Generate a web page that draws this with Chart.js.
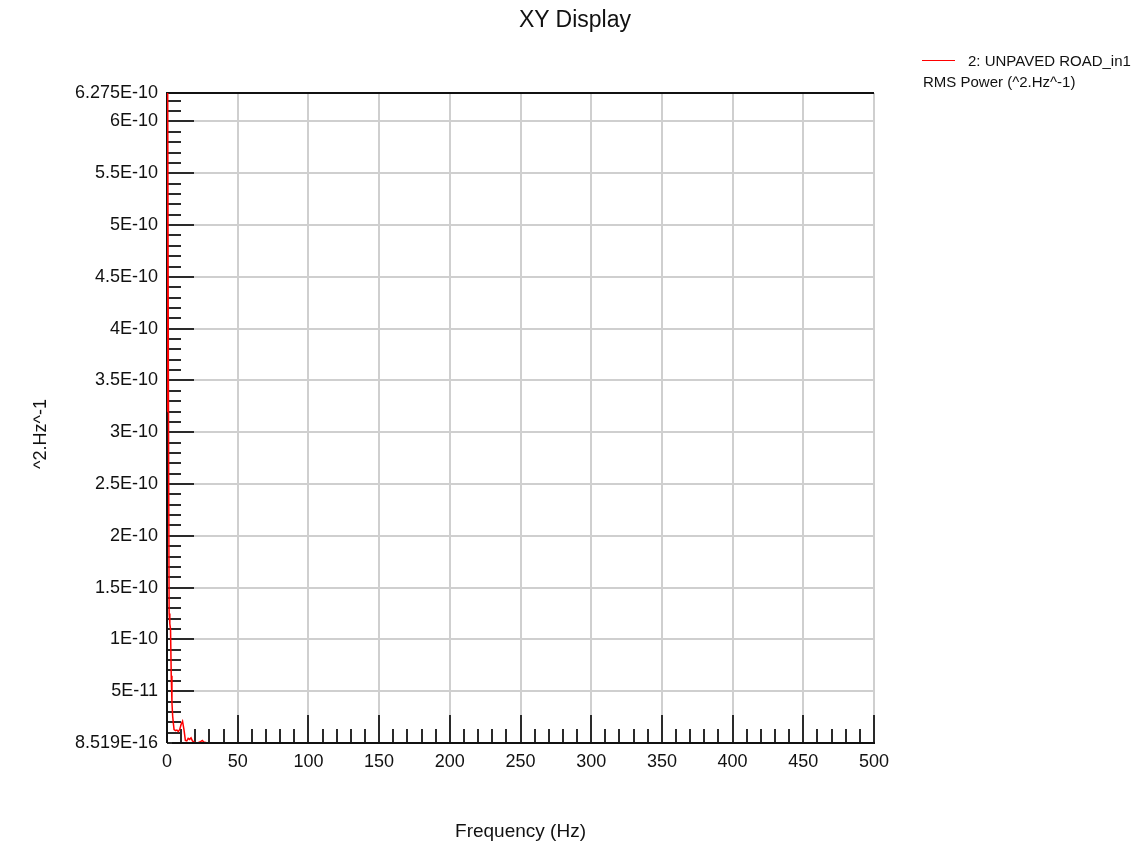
<!DOCTYPE html>
<html lang="en">
<head>
<meta charset="UTF-8" />
<title>XY Display</title>
<script src="https://cdn.jsdelivr.net/npm/chart.js"></script>
<style>
  html, body { margin: 0; padding: 0; background: #fff; }
  body { font-family: 'Liberation Sans', Arial, sans-serif; color: #111; }
  .wrap { position: relative; width: 1143px; height: 847px; }
  .title { position: absolute; top: 6px; left: 0; width: 1150px; text-align: center; font-size: 23px; line-height: 27px; }
  .legend { position: absolute; left: 922px; top: 52px; font-size: 15px; line-height: 18px; }
  .legend .swatch { position: absolute; left: 0; top: 8px; width: 33px; height: 0; border-top: 1.5px solid #ff0000; }
  .legend .name { position: absolute; left: 46px; top: 0; white-space: nowrap; }
  .legend .unit { position: absolute; left: 1px; top: 21px; white-space: nowrap; }
  .ytitle { position: absolute; left: -60px; top: 424px; width: 200px; height: 20px; line-height: 20px;
            text-align: center; font-size: 18px; transform: rotate(-90deg); }
</style>
</head>
<body>
<div class="wrap">
  <canvas id="xy" width="1143" height="847"></canvas>
  <div class="title">XY Display</div>
  <div class="legend">
    <div class="swatch"></div>
    <div class="name">2: UNPAVED ROAD_in1</div>
    <div class="unit">RMS Power (^2.Hz^-1)</div>
  </div>
  <div class="ytitle">^2.Hz^-1</div>
</div>

<script>
  // spectrum (Hz, ^2.Hz^-1)
  const freq = [0, 0.5, 1, 1.5, 2, 2.5, 3, 3.5, 4, 4.5, 5, 6, 7, 8, 9, 10, 11, 12, 13, 14, 15, 16, 17, 18, 19, 20, 22, 24, 25, 26, 28, 30, 40, 60, 100, 200, 300, 400, 500];
  const psd = [3.2e-10, 6.275e-10, 3.4e-10, 1.25e-10, 1.15e-10, 1.1e-10, 6.5e-11, 3.9e-11, 2.6e-11, 1.9e-11, 1.3e-11,
               1.2e-11, 1.25e-11, 1.1e-11, 1.3e-11, 1.8e-11, 2.1e-11, 1.3e-11, 2.5e-12, 2.0e-12, 4.5e-12, 3.5e-12, 5e-12,
               2e-12, 1e-12, 5e-13, 3e-13, 1.5e-12, 2.5e-12, 1e-12, 3e-13, 1e-13, 5e-14, 2e-14, 1e-14, 5e-15, 3e-15, 2e-15, 8.519e-16];

  const yMin = 8.519e-16;
  const yMax = 6.275e-10;
  const yLabelTicks = [8.519e-16, 5e-11, 1e-10, 1.5e-10, 2e-10, 2.5e-10, 3e-10, 3.5e-10, 4e-10, 4.5e-10, 5e-10, 5.5e-10, 6e-10, 6.275e-10];
  const yTickLabels = ['8.519E-16', '5E-11', '1E-10', '1.5E-10', '2E-10', '2.5E-10', '3E-10', '3.5E-10', '4E-10', '4.5E-10', '5E-10', '5.5E-10', '6E-10', '6.275E-10'];
  const yMinorStep = 1e-11;
  const yMajorStep = 5e-11;

  const xMin = 0, xMax = 500;
  const xMajorStep = 50;
  const xMinorStep = 10;

  function isYMajor(v) {
    const r = v / yMajorStep;
    return v > yMin * 2 && v < yMax && Math.abs(r - Math.round(r)) < 1e-6;
  }
  function isXMajor(v) {
    return v % xMajorStep === 0;
  }

  // inward tick marks, left/top frame under the trace; bottom axis over it
  const frameTicks = {
    id: 'frameTicks',
    beforeDatasetsDraw(chart) {
      const { ctx, chartArea: a, scales: { x, y } } = chart;
      ctx.save();
      ctx.strokeStyle = '#2a2a2a';
      ctx.lineWidth = 2;
      ctx.beginPath();
      y.ticks.forEach(t => {
        const py = Math.round(y.getPixelForValue(t.value));
        const len = isYMajor(t.value) ? 27 : 14;
        ctx.moveTo(a.left, py);
        ctx.lineTo(a.left + len, py);
      });
      x.ticks.forEach(t => {
        const px = Math.round(x.getPixelForValue(t.value));
        const len = isXMajor(t.value) ? 28 : 14;
        ctx.moveTo(px, a.bottom);
        ctx.lineTo(px, a.bottom - len);
      });
      ctx.stroke();
      ctx.strokeStyle = '#111';
      ctx.beginPath();
      ctx.moveTo(a.right, a.top);
      ctx.lineTo(a.left, a.top);
      ctx.lineTo(a.left, a.bottom);
      ctx.stroke();
      ctx.restore();
    },
    afterDatasetsDraw(chart) {
      const { ctx, chartArea: a } = chart;
      ctx.save();
      ctx.strokeStyle = '#111';
      ctx.lineWidth = 2;
      ctx.beginPath();
      ctx.moveTo(a.left + 5, a.bottom);
      ctx.lineTo(a.right + 1, a.bottom);
      ctx.stroke();
      ctx.restore();
    }
  };

  const tickFont = { family: "'Liberation Sans', Arial, sans-serif", size: 18 };

  new Chart(document.getElementById('xy'), {
    type: 'line',
    data: {
      datasets: [{
        label: '2: UNPAVED ROAD_in1',
        data: freq.map((f, i) => ({ x: f, y: psd[i] })),
        borderColor: '#ff0000',
        borderWidth: 1.5,
        pointRadius: 0,
        tension: 0,
        clip: false
      }]
    },
    options: {
      responsive: false,
      animation: false,
      devicePixelRatio: 1,
      layout: { padding: { top: 93, right: 269, left: 0, bottom: 0 } },
      plugins: { legend: { display: false }, tooltip: { enabled: false } },
      scales: {
        x: {
          type: 'linear',
          min: xMin,
          max: xMax,
          afterFit: s => { s.height = 104; },
          afterBuildTicks: s => {
            const t = [];
            for (let v = xMin; v <= xMax; v += xMinorStep) t.push({ value: v });
            s.ticks = t;
          },
          border: { display: false },
          grid: {
            drawTicks: false,
            lineWidth: 2,
            color: c => (c.tick && isXMajor(c.tick.value) && c.tick.value > xMin) ? '#cfcfcf' : 'rgba(0,0,0,0)'
          },
          ticks: {
            autoSkip: false,
            maxRotation: 0,
            padding: 8,
            color: '#111',
            font: tickFont,
            callback: v => isXMajor(v) ? String(v) : ''
          },
          title: {
            display: true,
            text: 'Frequency (Hz)',
            color: '#111',
            font: { family: "'Liberation Sans', Arial, sans-serif", size: 19 },
            padding: { top: 0, bottom: 4 }
          }
        },
        y: {
          type: 'linear',
          min: yMin,
          max: yMax,
          afterFit: s => { s.width = 167; },
          afterBuildTicks: s => {
            const t = [{ value: yMin }];
            for (let k = 1; k * yMinorStep < yMax; k++) t.push({ value: k * yMinorStep });
            t.push({ value: yMax });
            s.ticks = t;
          },
          border: { display: false },
          grid: {
            drawTicks: false,
            lineWidth: 2,
            color: c => (c.tick && isYMajor(c.tick.value)) ? '#cfcfcf' : 'rgba(0,0,0,0)'
          },
          ticks: {
            autoSkip: false,
            padding: 9,
            color: '#111',
            font: tickFont,
            callback: v => {
              const i = yLabelTicks.findIndex(l => Math.abs(l - v) < 1e-15);
              return i >= 0 ? yTickLabels[i] : '';
            }
          }
        }
      }
    },
    plugins: [frameTicks]
  });
</script>
</body>
</html>
